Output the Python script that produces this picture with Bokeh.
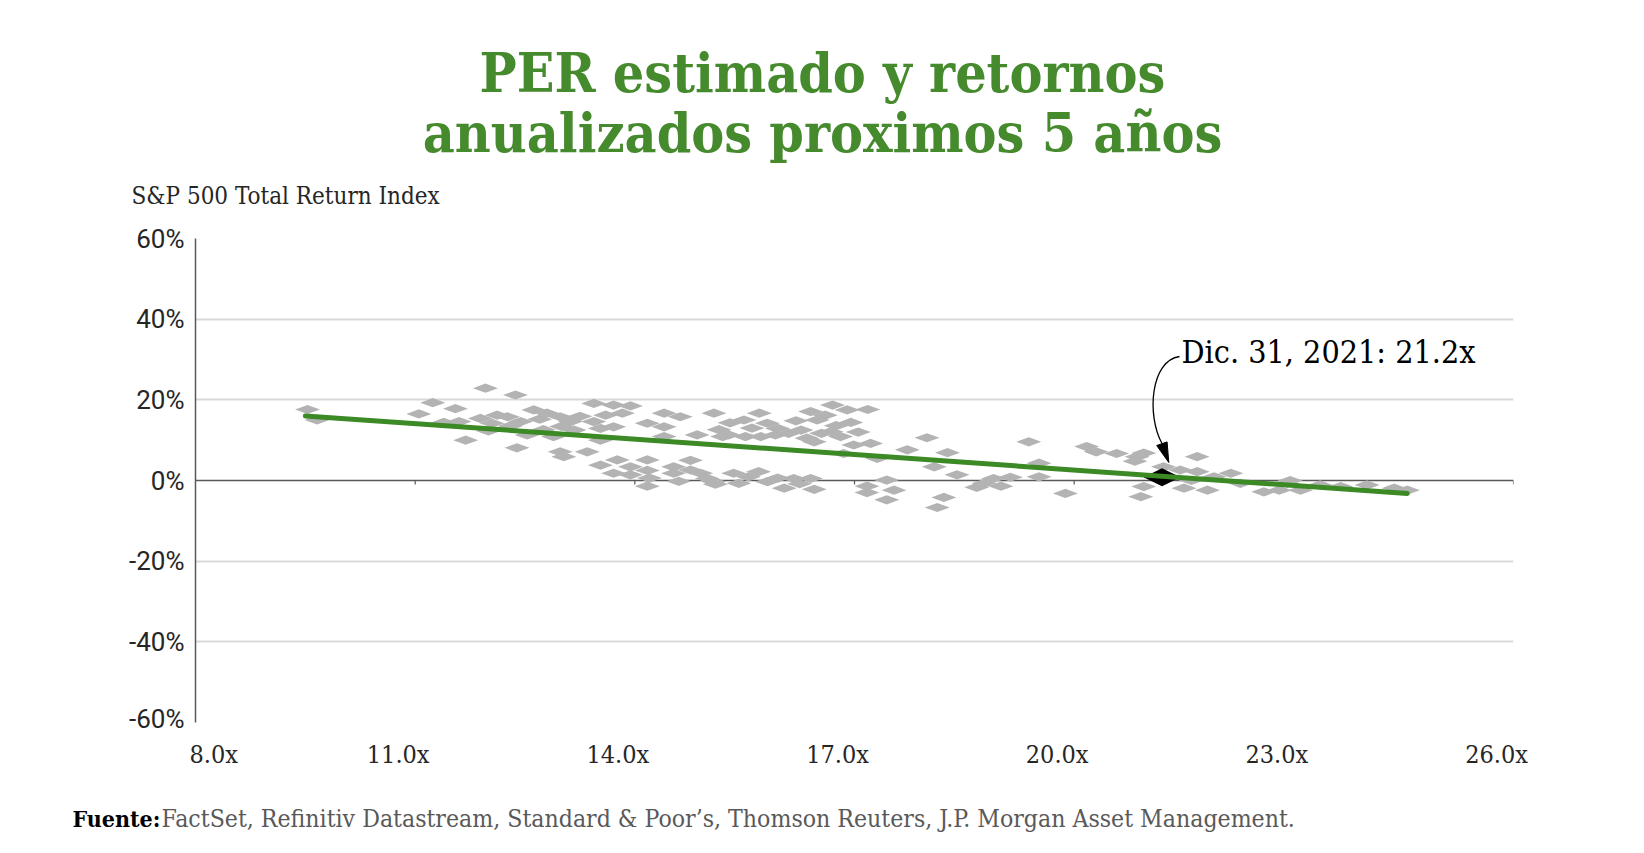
from bokeh.plotting import figure
from bokeh.models import Label, Span, FixedTicker, CustomJSTickFormatter, Range1d
from bokeh.embed import file_html
from bokeh.resources import INLINE

# ---------------- data ----------------
pe = [9.53, 9.66, 11.05, 11.24, 11.55, 11.39, 11.6, 11.69, 11.96, 12.37,
      11.89, 12.0, 12.12, 12.26, 12.44, 12.53, 12.39, 12.62, 12.8, 12.98,
      13.12, 13.17, 12.89, 12.98, 13.03, 13.35, 12.05, 12.3, 12.7, 13.0,
      13.25, 12.75, 13.44, 13.71, 13.94, 13.6, 13.83, 13.44, 13.53, 13.71,
      13.53, 13.53, 13.76, 13.71, 13.94, 14.17, 14.17, 14.17, 14.4, 14.17,
      14.4, 14.62, 14.4, 14.85, 15.08, 15.2, 14.76, 14.99, 15.1, 14.53,
      13.94, 14.53, 14.76, 15.28, 15.49, 15.7, 15.81, 15.51, 15.72, 15.92,
      16.1, 16.27, 16.4, 16.49, 16.7, 16.9, 17.18, 16.68, 16.81, 16.45,
      16.99, 17.22, 17.31, 16.85, 14.9, 15.08, 15.35, 15.42, 15.69, 15.81,
      16.04, 16.17, 16.4, 16.45, 17.17, 17.17, 17.44, 17.54, 17.44, 15.3,
      15.6, 15.95, 16.2, 16.6, 16.95, 16.75, 16.55, 17.05, 15.15, 16.35,
      17.72, 17.99, 18.27, 18.09, 18.4, 18.22, 18.13, 18.77, 18.9, 18.67,
      19.0, 19.38, 19.52, 19.52, 19.88, 20.17, 20.3, 20.58, 20.86, 20.83,
      20.95, 20.91, 19.13, 21.68, 21.22, 21.45, 21.68, 21.91, 22.14, 21.5,
      21.82, 22.27, 22.59, 22.91, 23.09, 23.36, 23.64, 24.0, 24.37, 24.55,
      21.6, 22.8, 22.95, 14.2, 14.6, 15.55, 15.95, 16.25, 20.95]
ret = [17.6, 15.0, 16.5, 19.3, 17.8, 14.4, 14.6, 10.0, 22.9, 21.2,
       15.4, 12.3, 16.2, 15.8, 14.6, 11.3, 8.1, 17.5, 16.7, 15.8,
       14.6, 12.5, 10.9, 7.1, 5.9, 7.1, 14.2, 13.5, 15.2, 13.4,
       15.9, 12.6, 19.1, 18.7, 18.5, 16.2, 16.7, 14.6, 12.9, 13.3,
       10.0, 3.8, 5.1, 1.8, 1.4, 5.1, 2.5, -1.4, 16.7, 14.2,
       13.3, 15.8, 10.9, 11.3, 16.7, 10.9, 2.6, 0.5, -0.9, 1.8,
       3.4, 3.4, 5.0, 11.3, 15.0, 16.7, 14.2, 10.9, 10.9, 11.3,
       11.7, 12.5, 17.1, 15.0, 18.7, 17.5, 17.6, 12.1, 10.9, 9.6,
       8.8, 9.2, 5.5, 6.7, 1.8, -0.3, 1.8, -0.7, 2.2, -0.3,
       -1.9, 0.5, 0.5, -2.2, -1.4, -3.0, 0.1, -2.4, -4.8, 14.3,
       13.0, 12.9, 14.8, 16.2, 14.4, 13.6, 11.7, 12.0, 12.6, 10.5,
       7.6, 10.6, 6.9, 3.4, 1.4, -4.2, -6.7, -0.7, 0.5, -1.7,
       -1.4, 9.6, 4.3, 0.9, -3.2, 8.4, 7.1, 6.7, 5.9, 4.8,
       -1.5, -4.0, 0.8, 5.9, 3.4, 2.6, 2.2, 0.9, 1.8, -1.9,
       -2.4, -0.7, -2.8, -0.7, -2.4, -1.1, -1.5, -1.1, -1.9, -2.4,
       0.0, -2.4, 0.0, 0.6, -0.2, 0.9, 0.6, -0.8, 6.8]

current_pe = [21.2]
current_ret = [0.8]

trend_pe = [9.5, 24.55]
trend_ret = [16.0, -3.2]

x_ticks = [8, 11, 14, 17, 20, 23, 26]
x_tick_labels = ["8.0x", "11.0x", "14.0x", "17.0x", "20.0x", "23.0x", "26.0x"]
y_ticks = [-60, -40, -20, 0, 20, 40, 60]
y_tick_labels = ["-60%", "-40%", "-20%", "0%", "20%", "40%", "60%"]

title_lines = ["PER estimado y retornos", "anualizados proximos 5 años"]
subtitle = "S&P 500 Total Return Index"
callout = "Dic. 31, 2021: 21.2x"
source_bold = "Fuente:"
source_text = "FactSet, Refinitiv Datastream, Standard & Poor’s, Thomson Reuters, J.P. Morgan Asset Management."

# ---------------- layout (page pixels) ----------------
W = 1628
TOP_H = 223          # title block: page y 0..223
CHART_H = 510        # chart block: page y 223..733
FOOT_H = 104         # x labels + source: page y 733..837
FL, FR = 195, 1513   # frame left/right
FT, FB = 238, 722    # frame top/bottom (page)
X0, X1, Y0, Y1 = 8, 26, -60, 60
BASE = 0.37          # shift of Bokeh's alphabetic baseline, in em

def dx(px):
    return X0 + (px - FL) * (X1 - X0) / (FR - FL)

def dy(py):
    return Y1 - (py - FT) * (Y1 - Y0) / (FB - FT)

def sx(n):
    return n * (X1 - X0) / (FR - FL)

def sy(n):
    return n * (Y1 - Y0) / (FB - FT)

SERIF = "DejaVu Serif Condensed"
SANS = "Roboto"
GREEN = "#468a2e"
TXT = "#262626"


def text_fig(h, x_range):
    f = figure(width=W, height=h, output_backend="svg", toolbar_location=None,
               x_range=x_range, y_range=Range1d(0, h),
               min_border=0, x_axis_type=None, y_axis_type=None)
    f.outline_line_color = None
    f.xgrid.visible = False
    f.ygrid.visible = False
    return f


def add_text(f, h, y_top, text, x, py, size, font=SERIF, style="normal",
             color=TXT, align="left", x_offset=0):
    f.add_layout(Label(x=x, y=h - (py - BASE * size - y_top), x_offset=x_offset,
                       text=text, text_font=font,
                       text_font_size=f"{size}px", text_font_style=style,
                       text_color=color, text_align=align,
                       text_baseline="alphabetic"))


# ---- title block ----
top = text_fig(TOP_H, Range1d(0, W))
add_text(top, TOP_H, 0, title_lines[0], 822, 92, 55, style="bold", color=GREEN, align="center")
add_text(top, TOP_H, 0, title_lines[1], 822, 152, 55, style="bold", color=GREEN, align="center")
add_text(top, TOP_H, 0, subtitle, 131, 204, 24, color=TXT)

# ---- chart ----
p = figure(width=W, height=CHART_H, output_backend="svg", toolbar_location=None,
           x_range=Range1d(X0, X1), y_range=Range1d(Y0, Y1),
           min_border_left=FL, min_border_right=W - FR,
           min_border_top=FT - TOP_H, min_border_bottom=TOP_H + CHART_H - FB)
p.outline_line_color = None
p.xaxis.visible = False

p.yaxis.ticker = FixedTicker(ticks=y_ticks)
p.yaxis.formatter = CustomJSTickFormatter(args=dict(t=y_ticks, l=y_tick_labels),
    code="const i = t.indexOf(tick); return i >= 0 ? l[i] : '';")
p.yaxis.axis_line_color = "#595959"
p.yaxis.axis_line_width = 1.5
p.yaxis.major_tick_line_color = None
p.yaxis.minor_tick_line_color = None
p.yaxis.major_tick_out = 0
p.yaxis.major_tick_in = 0
p.yaxis.major_label_standoff = 11
p.yaxis.major_label_text_font = SANS
p.yaxis.major_label_text_font_size = "26px"
p.yaxis.major_label_text_color = TXT

p.xgrid.visible = False
p.ygrid.ticker = FixedTicker(ticks=[t for t in y_ticks if t != 0])
p.ygrid.grid_line_color = "#d9d9d9"
p.ygrid.grid_line_width = 2

p.add_layout(Span(location=0, dimension="width", line_color="#595959",
                  line_width=1.5, level="underlay"))
p.segment(x0=x_ticks[1:], y0=[0] * (len(x_ticks) - 1),
          x1=x_ticks[1:], y1=[-sy(4)] * (len(x_ticks) - 1),
          line_color="#595959", line_width=1.2, level="underlay")

hw, hh = sx(12.5), sy(4.6)
p.patches(xs=[[x - hw, x, x + hw, x] for x in pe],
          ys=[[y, y + hh, y, y - hh] for y in ret],
          fill_color="#b3b3b3", line_color=None)

bw, bh = sx(18.5), sy(9)
p.patches(xs=[[x - bw, x, x + bw, x] for x in current_pe],
          ys=[[y, y + bh, y, y - bh] for y in current_ret],
          fill_color="black", line_color=None)

p.line(trend_pe, trend_ret, line_color="#3b8a25", line_width=5, line_cap="round")

p.bezier(x0=[dx(1179)], y0=[dy(356)], x1=[dx(1161.5)], y1=[dy(443)],
         cx0=[dx(1150)], cy0=[dy(360)], cx1=[dx(1146)], cy1=[dy(415)],
         line_color="black", line_width=1.3)
p.patch(x=[dx(1168.3), dx(1156.2), dx(1166.6)],
        y=[dy(462), dy(445), dy(441.4)],
        fill_color="black", line_color="black", line_width=1)

p.add_layout(Label(x=dx(1181), y=dy(363 - BASE * 32), text=callout, text_font=SERIF,
                   text_font_size="32px", text_color="black",
                   text_baseline="alphabetic"))

# ---- x tick labels + source (same x scale as the chart) ----
FOOT_TOP = TOP_H + CHART_H
foot = text_fig(FOOT_H, Range1d(dx(0), dx(W)))
for i, (t, lab) in enumerate(zip(x_ticks, x_tick_labels)):
    if i == 0:
        add_text(foot, FOOT_H, FOOT_TOP, lab, t, 763, 25, align="left", x_offset=-6)
    else:
        add_text(foot, FOOT_H, FOOT_TOP, lab, t, 763, 25, align="center", x_offset=-17)
add_text(foot, FOOT_H, FOOT_TOP, source_bold, dx(72), 827, 23, style="bold", color="black")
add_text(foot, FOOT_H, FOOT_TOP, source_text, dx(161), 827, 24.6, color="#595959")

open("out.html", "w").write(file_html([top, p, foot], INLINE))
